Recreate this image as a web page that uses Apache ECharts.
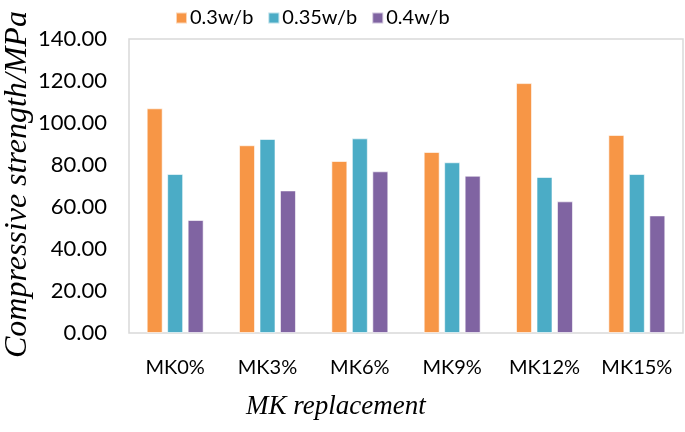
<!DOCTYPE html>
<html>
<head>
<meta charset="utf-8">
<script src="https://cdn.jsdelivr.net/npm/echarts@6/dist/echarts.min.js"></script>
<style>
  html, body { margin: 0; padding: 0; background: #fff; }
  #chart { width: 685px; height: 432px; }
</style>
</head>
<body>
<div id="chart"></div>
<script>
// MK replacement vs compressive strength
var categories = ['MK0%', 'MK3%', 'MK6%', 'MK9%', 'MK12%', 'MK15%'];
var seriesNames = ['0.3w/b', '0.35w/b', '0.4w/b'];
var wb030 = [107.0, 89.4, 81.9, 86.2, 119.0, 94.3];
var wb035 = [75.7, 92.4, 92.7, 81.3, 74.3, 75.7];
var wb040 = [53.8, 67.9, 77.0, 74.9, 62.7, 56.0];
var colors = ['#F79646', '#4BACC6', '#8064A2'];

var labelFont = 'Lato, "Liberation Sans", sans-serif';
var nameFont = '"Liberation Serif", "DejaVu Serif", serif';

var myChart = echarts.init(document.getElementById('chart'));

function makeSeries(name, values, color) {
    return {
        name: name,
        type: 'bar',
        data: values,
        barWidth: 16,
        barGap: '28%',
        itemStyle: {
            color: color,
            borderColor: 'rgba(255,255,255,0.6)',
            borderWidth: 1
        }
    };
}

option = {
    backgroundColor: '#fff',
    animation: false,
    color: colors,
    legend: {
        top: 3,
        left: 170,
        itemWidth: 11,
        itemHeight: 11,
        itemGap: 14,
        icon: 'rect',
        textStyle: {
            fontFamily: labelFont,
            fontSize: 20,
            color: '#000',
            padding: [0, 0, 0, -2]
        },
        data: seriesNames
    },
    grid: {
        left: 129,
        right: 2,
        top: 39,
        bottom: 99,
        show: true,
        borderColor: '#D9D9D9',
        borderWidth: 1.5,
        containLabel: false
    },
    xAxis: {
        type: 'category',
        data: categories,
        axisLine: { show: false },
        axisTick: { show: false },
        axisLabel: {
            interval: 0,
            margin: 25,
            fontFamily: labelFont,
            fontSize: 20,
            color: '#000'
        }
    },
    yAxis: {
        type: 'value',
        min: 0,
        max: 140,
        interval: 20,
        splitLine: { show: false },
        axisLine: { show: false },
        axisTick: { show: false },
        axisLabel: {
            margin: 22,
            fontFamily: labelFont,
            fontSize: 22,
            color: '#000',
            formatter: function (v) { return v.toFixed(2); }
        }
    },
    graphic: [
        {
            type: 'text',
            x: 246,
            y: 393,
            style: {
                text: 'MK replacement',
                font: 'italic 27px ' + nameFont,
                fill: '#000'
            }
        },
        {
            type: 'text',
            x: 2,
            y: 358,
            rotation: Math.PI / 2,
            style: {
                text: 'Compressive strength/MPa',
                font: 'italic 32px ' + nameFont,
                fill: '#000'
            }
        }
    ],
    series: [
        makeSeries(seriesNames[0], wb030, colors[0]),
        makeSeries(seriesNames[1], wb035, colors[1]),
        makeSeries(seriesNames[2], wb040, colors[2])
    ]
};

myChart.setOption(option);
</script>
</body>
</html>
